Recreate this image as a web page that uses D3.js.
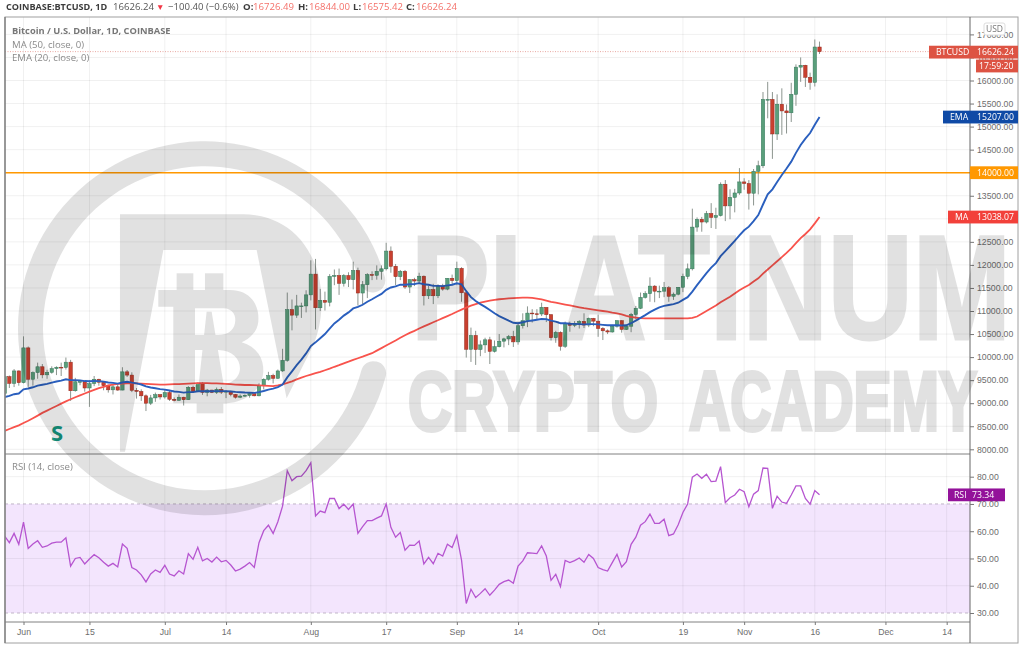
<!DOCTYPE html>
<html>
<head>
<meta charset="utf-8">
<script src="https://cdn.jsdelivr.net/npm/d3@7"></script>
<style>
  html, body { margin: 0; padding: 0; background: #fff; }
  svg { display: block; font-family: "Open Sans", sans-serif; }
  .axis path { display: none; }
  .axis line { stroke: #777; }
  .axis text { fill: #6d6d6d; font-size: 8.7px; }
</style>
</head>
<body>
<svg width="1024" height="648"></svg>
<script>
/* DAILY CANDLES, ONE ROW PER MONTH, STARTING ON MAY 28 */
const firstDay = '2020-05-28'
const opens = [
  9210, 9575, 9430, 9700,
  9445, 10200, 9520, 9665, 9790, 9615, 9670, 9750, 9780, 9775, 9890, 9270, 9465, 9470, 9330, 9425, 9520, 9455, 9380, 9290, 9355, 9285, 9680, 9610, 9280, 9255, 9160, 9000, 9115, 9185,
  9135, 9230, 9085, 9060, 9130, 9075, 9345, 9250, 9435, 9235, 9285, 9235, 9300, 9240, 9260, 9190, 9130, 9155, 9170, 9210, 9160, 9390, 9520, 9600, 9540, 9700, 9930, 11030, 10910, 11110, 11110,
  11350, 11800, 11070, 11230, 11190, 11750, 11770, 11600, 11770, 11680, 11880, 11390, 11570, 11790, 11775, 11860, 11915, 12300, 11970, 11745, 11860, 11520, 11680, 11650, 11755, 11330, 11465, 11330, 11540, 11475, 11710,
  11660, 11925, 11395, 10170, 10470, 10165, 10265, 10375, 10125, 10225, 10345, 10395, 10445, 10330, 10680, 10790, 10955, 10940, 10935, 11080, 10920, 10420, 10535, 10235, 10735, 10690, 10730, 10775, 10695, 10840,
  10780, 10620, 10570, 10545, 10670, 10790, 10600, 10670, 10925, 11060, 11295, 11375, 11540, 11430, 11430, 11505, 11320, 11365, 11515, 11750, 11915, 12820, 12990, 12930, 13115, 13030, 13070, 13750, 13280, 13465, 13560,
  13800, 13765, 13555, 14030, 14150, 15590, 15590, 14840, 15485, 15340, 15300, 15700, 16290, 16330, 16070, 15960, 16726.49
]
const highs = [
  9620, 9600, 9740, 9710,
  10450, 10230, 9690, 9880, 9850, 9725, 9800, 9800, 9880, 9990, 9940, 9550, 9490, 9480, 9500, 9590, 9530, 9470, 9400, 9400, 9415, 9780, 9720, 9670, 9330, 9300, 9190, 9180, 9230, 9200,
  9290, 9265, 9125, 9190, 9140, 9370, 9380, 9450, 9460, 9310, 9290, 9340, 9350, 9280, 9270, 9200, 9190, 9190, 9220, 9225, 9430, 9540, 9680, 9640, 9730, 10180, 11400, 11250, 11350, 11180, 11450,
  12100, 12130, 11480, 11420, 11800, 11900, 11920, 11800, 11840, 12070, 11940, 11650, 11820, 11860, 11990, 11990, 12480, 12400, 12020, 11890, 11890, 11690, 11720, 11830, 11770, 11550, 11590, 11580, 11590, 11710, 11790,
  12070, 11950, 11400, 10640, 10570, 10360, 10420, 10440, 10360, 10500, 10420, 10480, 10570, 10760, 10950, 11100, 11040, 11040, 11180, 11050, 10930, 10570, 10560, 10770, 10770, 10780, 10800, 10950, 10860, 10850,
  10920, 10650, 10600, 10700, 10800, 10800, 10690, 10960, 11110, 11400, 11430, 11730, 11560, 11550, 11630, 11540, 11400, 11520, 11810, 12030, 13220, 13030, 13040, 13170, 13340, 13240, 13790, 13840, 13640, 13650, 14100,
  13880, 13840, 14080, 14260, 15750, 15970, 15750, 15700, 15830, 15480, 15950, 16350, 16500, 16340, 16170, 16890, 16844
]
const lows = [
  9110, 9330, 9350, 9380,
  9430, 9355, 9380, 9530, 9540, 9530, 9640, 9610, 9590, 9730, 9050, 9250, 9390, 9250, 8920, 9370, 9380, 9280, 9230, 9190, 9270, 9280, 9570, 9240, 9100, 9050, 8830, 8960, 9030, 9080,
  9100, 9050, 9040, 9060, 8950, 9070, 9230, 9240, 9180, 9150, 9220, 9200, 9200, 9110, 9150, 9100, 9110, 9140, 9120, 9150, 9150, 9300, 9490, 9430, 9530, 9680, 9900, 10580, 10850, 10850, 10970,
  11230, 10600, 11000, 11010, 11100, 11560, 11350, 11530, 11520, 11470, 11120, 11150, 11280, 11670, 11680, 11680, 11880, 11830, 11560, 11670, 11480, 11390, 11540, 11590, 11120, 11260, 11150, 11280, 11440, 11450, 11570,
  11560, 11200, 9990, 9895, 9830, 10020, 10090, 9850, 10100, 10210, 10210, 10260, 10220, 10270, 10620, 10650, 10750, 10800, 10890, 10760, 10360, 10310, 10140, 10200, 10550, 10650, 10620, 10630, 10650, 10670,
  10440, 10370, 10500, 10530, 10640, 10530, 10590, 10540, 10820, 11040, 11270, 11200, 11190, 11280, 11300, 11200, 11240, 11340, 11410, 11690, 11880, 12720, 12720, 12900, 12800, 12780, 13050, 12950, 12990, 13140, 13520,
  13630, 13200, 13290, 13530, 14100, 15180, 14300, 14710, 14820, 14850, 15100, 15450, 15970, 15860, 15800, 15870, 16575.42
]
const closes = [
  9575, 9430, 9700, 9445,
  10200, 9520, 9665, 9790, 9615, 9670, 9750, 9780, 9775, 9890, 9270, 9465, 9470, 9330, 9425, 9520, 9455, 9380, 9290, 9355, 9285, 9680, 9610, 9280, 9255, 9160, 9000, 9115, 9185, 9135,
  9230, 9085, 9060, 9130, 9075, 9345, 9250, 9435, 9235, 9285, 9235, 9300, 9240, 9260, 9190, 9130, 9155, 9170, 9210, 9160, 9390, 9520, 9600, 9540, 9700, 9930, 11030, 10910, 11110, 11110, 11350,
  11800, 11070, 11230, 11190, 11750, 11770, 11600, 11770, 11680, 11880, 11390, 11570, 11790, 11775, 11860, 11915, 12300, 11970, 11745, 11860, 11520, 11680, 11650, 11755, 11330, 11465, 11330, 11540, 11475, 11710, 11660,
  11925, 11395, 10170, 10470, 10165, 10265, 10375, 10125, 10225, 10345, 10395, 10445, 10330, 10680, 10790, 10955, 10940, 10935, 11080, 10920, 10420, 10535, 10235, 10735, 10690, 10730, 10775, 10695, 10840, 10780,
  10620, 10570, 10545, 10670, 10790, 10600, 10670, 10925, 11060, 11295, 11375, 11540, 11430, 11430, 11505, 11320, 11365, 11515, 11750, 11915, 12820, 12990, 12930, 13115, 13030, 13070, 13750, 13280, 13465, 13560, 13800,
  13765, 13555, 14030, 14150, 15590, 15590, 14840, 15485, 15340, 15300, 15700, 16290, 16330, 16070, 15960, 16726.49, 16626.24
]

/* INDICATOR LINES, SAME DAYS AS THE CANDLES */
const ema20 = [
  9130, 9160, 9195, 9210,
  9300, 9320, 9345, 9380, 9400, 9420, 9445, 9470, 9490, 9520, 9500, 9500, 9495, 9480, 9475, 9480, 9478, 9468, 9450, 9440, 9425, 9450, 9465, 9445, 9430, 9405, 9365, 9340, 9325, 9305,
  9295, 9275, 9255, 9245, 9230, 9240, 9240, 9260, 9258, 9260, 9258, 9262, 9262, 9262, 9255, 9245, 9238, 9232, 9230, 9225, 9240, 9265, 9295, 9315, 9350, 9405, 9560, 9690, 9825, 9945, 10080,
  10240, 10320, 10410, 10500, 10620, 10730, 10810, 10900, 10970, 11055, 11090, 11135, 11200, 11255, 11315, 11370, 11460, 11510, 11535, 11570, 11570, 11580, 11585, 11605, 11580, 11570, 11545, 11545, 11540, 11555, 11570,
  11600, 11580, 11430, 11300, 11215, 11150, 11090, 11020, 10950, 10890, 10840, 10790, 10745, 10735, 10755, 10780, 10795, 10810, 10825, 10820, 10790, 10770, 10735, 10735, 10725, 10720, 10715, 10710, 10715, 10715,
  10710, 10700, 10690, 10690, 10690, 10685, 10690, 10735, 10790, 10850, 10910, 10975, 11030, 11080, 11110, 11130, 11150, 11180, 11240, 11300, 11420, 11560, 11690, 11820, 11940, 12040, 12190, 12300, 12410, 12520, 12640,
  12750, 12830, 12950, 13080, 13310, 13530, 13640, 13800, 13950, 14090, 14240, 14430, 14600, 14740, 14860, 15040, 15207
]
const ma50 = [
  8400, 8440, 8480, 8520,
  8570, 8620, 8675, 8730, 8790, 8840, 8890, 8940, 8990, 9040, 9085, 9130, 9170, 9210, 9250, 9290, 9325, 9355, 9385, 9405, 9420, 9425, 9430, 9430, 9428, 9425, 9420, 9415, 9410, 9405,
  9405, 9410, 9415, 9415, 9420, 9425, 9430, 9435, 9435, 9435, 9430, 9430, 9425, 9420, 9415, 9405, 9400, 9395, 9395, 9390, 9385, 9380, 9375, 9370, 9385, 9410, 9440, 9475, 9515, 9555, 9590,
  9620, 9650, 9680, 9715, 9750, 9790, 9825, 9865, 9900, 9940, 9975, 10010, 10050, 10085, 10140, 10195, 10250, 10305, 10360, 10420, 10475, 10525, 10570, 10620, 10665, 10710, 10755, 10800, 10845, 10890, 10935,
  10985, 11030, 11075, 11115, 11150, 11180, 11205, 11225, 11240, 11255, 11265, 11275, 11280, 11285, 11288, 11288, 11285, 11270, 11250, 11225, 11200, 11180, 11160, 11140, 11120, 11100, 11080, 11060, 11045, 11030,
  11015, 11000, 10985, 10965, 10950, 10925, 10895, 10870, 10855, 10845, 10840, 10838, 10838, 10838, 10838, 10838, 10838, 10838, 10838, 10840, 10850, 10880, 10940, 11000, 11060, 11120, 11190, 11250, 11310, 11380, 11450,
  11510, 11565, 11640, 11710, 11810, 11900, 11990, 12080, 12170, 12260, 12360, 12470, 12580, 12670, 12770, 12900, 13038
]
const rsi14 = [
  58.2, 55.8, 59.2, 55.2,
  63.3, 53.7, 55.3, 56.5, 54.1, 54.6, 55.6, 56, 56, 57.6, 47.2, 50, 50.4, 48, 49.8, 51.4, 50.3, 48.6, 47.2, 48.2, 46.9, 55.3, 53.7, 46.7, 45.8, 44, 41.4, 44.3, 45.8, 44.9,
  47.5, 44.3, 43.6, 45.5, 44.3, 51.8, 49.7, 54.1, 49.1, 50, 48.7, 50.5, 48.8, 49.3, 47.6, 45.4, 46.1, 47.2, 48.5, 46.7, 55.8, 60.2, 62.2, 59.2, 63.5, 69.2, 82.2, 78.5, 80, 80.2, 82.2,
  85.1, 65.6, 67.4, 66.8, 72, 72, 68.3, 69.9, 68, 70, 59.2, 61.7, 63.9, 63.9, 64.8, 65.6, 70, 61.4, 57.8, 59.5, 53, 54.9, 54.8, 56.4, 48, 50.4, 48.1, 51.9, 50.9, 55.2, 54,
  58.4, 49.4, 33.5, 38.7, 35.7, 37.2, 38.9, 36.5, 38.4, 40.5, 41.5, 42.1, 40.9, 47.2, 49.1, 52.1, 52, 51.8, 54.6, 50.9, 42, 44.2, 39.7, 49.3, 48.5, 49.2, 50.2, 48.6, 51.5, 50,
  46.7, 45.9, 45.4, 48.5, 51.5, 46.9, 48.8, 55.2, 57.8, 62.2, 63.5, 66.3, 62.9, 62.9, 64.4, 58.4, 59, 62.4, 66.9, 70, 79.8, 81, 79.4, 80.9, 78.2, 78.4, 83.7, 70.5, 72.3, 73.3, 75.4,
  74.5, 69, 73.6, 74.9, 83.2, 83.1, 68.4, 72.8, 70.7, 70.2, 73.3, 76.6, 76.6, 72, 69.9, 74.9, 73.34
]

/* TICKS */
const priceTicks = [8000, 8500, 9000, 9500, 10000, 10500, 11000, 11500, 12000, 12500, 13000, 13500, 14000, 14500, 15000, 15500, 16000, 16500, 17000]
const rsiTicks = [30, 40, 50, 60, 70, 80]
const timeTicks = ['2020-06-01', '2020-06-15', '2020-07-01', '2020-07-14', '2020-08-01', '2020-08-17', '2020-09-01', '2020-09-14', '2020-10-01', '2020-10-19', '2020-11-01', '2020-11-16', '2020-12-01', '2020-12-14']
const timeLabels = ['Jun', '15', 'Jul', '14', 'Aug', '17', 'Sep', '14', 'Oct', '19', 'Nov', '16', 'Dec', '14']

/* LEVELS AND LAST VALUES */
const supportLevel = 14000
const rsiBand = [30, 70]
const lastClose = 16626.24
const lastEma = 15207
const lastMa = 13038.07
const lastRsi = 73.34

const parseDay = d3.utcParse('%Y-%m-%d')
const dayMs = 24 * 60 * 60 * 1000
const startMs = parseDay(firstDay).getTime()
const candles = closes.map((c, i) => ({
  date: new Date(startMs + i * dayMs),
  open: opens[i], high: highs[i], low: lows[i], close: c
}))

/* LAYOUT */
const plotLeft = 5, axisX = 970, plotRight = 1018
const plotTop = 17, mainBottom = 454, rsiBottom = 622, frameBottom = 643

const svg = d3.select('svg')

const xScale = d3.scaleUtc()
  .domain([parseDay('2020-06-01'), parseDay('2020-11-16')])
  .range([23.5, 814.8])
const yScale = d3.scaleLinear()
  .domain([8000, 16000])
  .range([449.3, 80.5])
const rsiScale = d3.scaleLinear()
  .domain([30, 80])
  .range([613, 476.7])

const defs = svg.append('defs')
defs.append('clipPath').attr('id', 'mainClip').append('rect')
  .attr('x', plotLeft).attr('y', plotTop).attr('width', axisX - plotLeft).attr('height', mainBottom - plotTop)
defs.append('clipPath').attr('id', 'rsiClip').append('rect')
  .attr('x', plotLeft).attr('y', mainBottom).attr('width', axisX - plotLeft).attr('height', rsiBottom - mainBottom)

/* RSI BAND UNDER THE GRID */
svg.append('rect')
  .attr('x', plotLeft).attr('width', axisX - plotLeft)
  .attr('y', rsiScale(rsiBand[1]))
  .attr('height', rsiScale(rsiBand[0]) - rsiScale(rsiBand[1]))
  .attr('fill', '#f3e5fd')

/* GRID */
const grid = svg.append('g').attr('stroke', '#000').attr('stroke-opacity', 0.06)
grid.selectAll('.vmain')
  .data(timeTicks)
  .enter().append('line')
  .attr('x1', d => xScale(parseDay(d))).attr('x2', d => xScale(parseDay(d)))
  .attr('y1', plotTop).attr('y2', rsiBottom)
grid.selectAll('.hmain')
  .data(priceTicks.filter(d => yScale(d) > plotTop))
  .enter().append('line')
  .attr('x1', plotLeft).attr('x2', axisX)
  .attr('y1', d => yScale(d)).attr('y2', d => yScale(d))
grid.selectAll('.hrsi')
  .data(rsiTicks.filter(d => d !== 30 && d !== 70))
  .enter().append('line')
  .attr('x1', plotLeft).attr('x2', axisX)
  .attr('y1', d => rsiScale(d)).attr('y2', d => rsiScale(d))

/* RSI BAND EDGES */
svg.append('g').selectAll('line')
  .data(rsiBand)
  .enter().append('line')
  .attr('x1', plotLeft).attr('x2', axisX)
  .attr('y1', d => rsiScale(d)).attr('y2', d => rsiScale(d))
  .attr('stroke', '#b3a6ba').attr('stroke-dasharray', '3,3').attr('stroke-width', 0.8)

/* MAIN PANEL MARKS */
const main = svg.append('g').attr('clip-path', 'url(#mainClip)')

main.append('line')
  .attr('x1', plotLeft).attr('x2', axisX)
  .attr('y1', yScale(lastClose)).attr('y2', yScale(lastClose))
  .attr('stroke', '#e8a9a2').attr('stroke-dasharray', '1,1.5')

main.append('line')
  .attr('x1', plotLeft).attr('x2', axisX)
  .attr('y1', yScale(supportLevel)).attr('y2', yScale(supportLevel))
  .attr('stroke', '#ff9800').attr('stroke-width', 1.6)

const upColor = '#5a9f7b', downColor = '#c9402f'
const upEdge = '#35775a', downEdge = '#93291d'
const bodyWidth = 3.4

const candle = main.selectAll('.candle')
  .data(candles)
  .enter().append('g')
  .attr('class', 'candle')

candle.append('line')
  .attr('x1', d => xScale(d.date)).attr('x2', d => xScale(d.date))
  .attr('y1', d => yScale(d.high)).attr('y2', d => yScale(d.low))
  .attr('stroke', '#6f7a72').attr('stroke-width', 0.8)

candle.append('rect')
  .attr('x', d => xScale(d.date) - bodyWidth / 2)
  .attr('width', bodyWidth)
  .attr('y', d => yScale(Math.max(d.open, d.close)))
  .attr('height', d => Math.max(0.8, Math.abs(yScale(d.open) - yScale(d.close))))
  .attr('fill', d => d.close >= d.open ? upColor : downColor)
  .attr('stroke', d => d.close >= d.open ? upEdge : downEdge)
  .attr('stroke-width', 0.5)

const priceLine = d3.line()
  .x((d, i) => xScale(candles[i].date))
  .y(d => yScale(d))

main.append('path').datum(ma50)
  .attr('d', priceLine)
  .attr('fill', 'none').attr('stroke', '#f8534c').attr('stroke-width', 1.8)
main.append('path').datum(ema20)
  .attr('d', priceLine)
  .attr('fill', 'none').attr('stroke', '#2a5fbe').attr('stroke-width', 1.9)

main.append('text')
  .attr('x', 51).attr('y', 441)
  .attr('font-size', 22).attr('font-weight', 700).attr('fill', '#14967f')
  .text('S')

/* RSI LINE */
const rsiLine = d3.line()
  .x((d, i) => xScale(candles[i].date))
  .y(d => rsiScale(d))

svg.append('g').attr('clip-path', 'url(#rsiClip)')
  .append('path').datum(rsi14)
  .attr('d', rsiLine)
  .attr('fill', 'none').attr('stroke', '#b655d0').attr('stroke-width', 1.3)

/* FRAME */
const chartFrame = svg.append('g').attr('stroke', '#808080').attr('fill', 'none')
chartFrame.append('rect')
  .attr('x', plotLeft).attr('y', plotTop)
  .attr('width', plotRight - plotLeft).attr('height', frameBottom - plotTop)
  .attr('stroke', '#a0a0a0')
chartFrame.append('line').attr('x1', plotLeft).attr('x2', axisX).attr('y1', mainBottom).attr('y2', mainBottom)
chartFrame.append('line').attr('x1', plotLeft).attr('x2', axisX).attr('y1', rsiBottom).attr('y2', rsiBottom)
chartFrame.append('line').attr('x1', axisX).attr('x2', axisX).attr('y1', plotTop).attr('y2', frameBottom).attr('stroke', '#666')
chartFrame.append('line').attr('x1', plotLeft).attr('x2', plotLeft).attr('y1', plotTop).attr('y2', frameBottom).attr('stroke-width', 1.4)

/* AXES */
svg.append('g')
  .attr('class', 'axis')
  .attr('transform', `translate(${axisX}, 0)`)
  .call(d3.axisRight(yScale).tickValues(priceTicks).tickFormat(d3.format('.2f')).tickSize(4).tickPadding(3))
svg.append('g')
  .attr('class', 'axis')
  .attr('transform', `translate(${axisX}, 0)`)
  .call(d3.axisRight(rsiScale).tickValues(rsiTicks).tickFormat(d3.format('.2f')).tickSize(4).tickPadding(3))
svg.append('g')
  .attr('class', 'axis')
  .attr('transform', `translate(0, ${rsiBottom})`)
  .call(d3.axisBottom(xScale)
    .tickValues(timeTicks.map(parseDay))
    .tickFormat((d, i) => timeLabels[i])
    .tickSize(3).tickPadding(4))

/* WATERMARK, LAID OVER THE CHART */
const mark = svg.append('g')
  .attr('opacity', 0.12)
  .attr('fill', '#000')
  .style('mix-blend-mode', 'multiply')
  .style('pointer-events', 'none')

const deg = Math.PI / 180
mark.append('path')
  .attr('transform', 'translate(205, 328.3)')
  .attr('d', d3.arc()
    .innerRadius(162).outerRadius(187)
    .startAngle(101 * deg).endAngle(438 * deg)
    .cornerRadius(12)())

const logo = mark.append('g').attr('transform', 'translate(10, 135) scale(0.3333)')
logo.append('path')
  .attr('d', 'M330,238 L700,238 C800,240 880,290 920,400 C950,500 930,600 900,650 L830,790 L740,345 L460,345 L345,950 L330,950 Z')
logo.append('path')
  .attr('fill-rule', 'evenodd')
  .attr('d', 'M445,465 L660,465 C720,465 750,510 745,560 C742,590 720,610 695,622 C740,635 762,670 760,710 C755,770 700,805 640,805 L490,805 L490,515 L445,515 Z ' +
    'M555,520 L640,520 C670,520 680,545 675,565 C670,590 650,600 625,600 L555,600 Z ' +
    'M555,645 L625,645 C665,645 690,670 690,700 C690,730 660,750 630,750 L555,750 Z')
logo.append('path').attr('d', 'M590,530 L605,530 L650,805 L560,805 Z')
logo.append('rect').attr('x', 500).attr('y', 415).attr('width', 50).attr('height', 50)
logo.append('rect').attr('x', 585).attr('y', 415).attr('width', 55).attr('height', 50)
logo.append('rect').attr('x', 560).attr('y', 805).attr('width', 80).attr('height', 30)

const markFont = '"Liberation Sans", sans-serif'
mark.append('text')
  .attr('x', 411).attr('y', 339)
  .attr('font-family', markFont)
  .attr('font-size', 148).attr('font-weight', 700)
  .attr('stroke', '#000').attr('stroke-width', 3)
  .attr('textLength', 600).attr('lengthAdjust', 'spacingAndGlyphs')
  .text('PLATINUM')
mark.append('text')
  .attr('x', 408).attr('y', 430)
  .attr('font-family', markFont)
  .attr('font-size', 83).attr('font-weight', 700)
  .attr('stroke', '#000').attr('stroke-width', 4)
  .attr('textLength', 250).attr('lengthAdjust', 'spacingAndGlyphs')
  .text('CRYPTO')
mark.append('text')
  .attr('x', 689).attr('y', 430)
  .attr('font-family', markFont)
  .attr('font-size', 83).attr('font-weight', 700)
  .attr('stroke', '#000').attr('stroke-width', 4)
  .attr('textLength', 288).attr('lengthAdjust', 'spacingAndGlyphs')
  .text('ACADEMY')

/* PRICE TAGS ON THE AXIS */
const tag = (x0, x1, yMid, color, parts) => {
  const g = svg.append('g')
  g.append('rect')
    .attr('x', x0).attr('y', yMid - 6.4)
    .attr('width', x1 - x0).attr('height', 12.8)
    .attr('fill', color)
  parts.forEach(p => {
    g.append('text')
      .attr('x', p[0]).attr('y', yMid + 3.1)
      .attr('font-size', 8.7).attr('fill', '#fff')
      .text(p[1])
  })
  return g
}
const fmt = d3.format('.2f')

tag(929, plotRight, yScale(lastClose) + 0.5, '#dd5343', [[936, 'BTCUSD'], [977, fmt(lastClose)]])
tag(976, plotRight, 66, '#dd5343', [[979, '17:59:20']])
tag(943, plotRight, yScale(lastEma), '#0f4aa6', [[950, 'EMA'], [977, fmt(lastEma)]])
tag(970, plotRight, yScale(supportLevel), '#ff9800', [[977, fmt(supportLevel)]])
tag(948, plotRight, yScale(lastMa), '#f2403a', [[955, 'MA'], [977, fmt(lastMa)]])
tag(948, 1005, rsiScale(lastRsi), '#93129a', [[954, 'RSI'], [972, fmt(lastRsi)]])

svg.append('rect')
  .attr('x', 984).attr('y', 23).attr('width', 21).attr('height', 12).attr('rx', 2)
  .attr('fill', '#fff').attr('stroke', '#ddd')
svg.append('text')
  .attr('x', 994.5).attr('y', 32.2).attr('text-anchor', 'middle')
  .attr('font-size', 8.5).attr('fill', '#777')
  .text('USD')

/* HEADER AND LEGEND */
const label = (x, y, text, color, weight, size) => {
  svg.append('text')
    .attr('x', x).attr('y', y)
    .attr('font-size', size || 9.6)
    .attr('font-weight', weight || 400)
    .attr('fill', color)
    .text(text)
}
const dark = '#3c3c3c', pink = '#f4716a'
label(6, 10, 'COINBASE:BTCUSD, 1D', dark, 700, 9.1)
label(113, 10, '16626.24', '#555')
label(156, 10, '▼', '#f23645', 400, 8.5)
label(168, 10, '−100.40 (−0.6%)', '#555')
label(243, 10, 'O:', dark, 700)
label(253, 10, '16726.49', pink)
label(298, 10, 'H:', dark, 700)
label(309, 10, '16844.00', pink)
label(353, 10, 'L:', dark, 700)
label(362, 10, '16575.42', pink)
label(406, 10, 'C:', dark, 700)
label(416, 10, '16626.24', pink)

label(12, 34, 'Bitcoin / U.S. Dollar, 1D, COINBASE', '#777', 700, 9.3)
label(12, 47.5, 'MA (50, close, 0)', '#8a8a8a')
label(12, 60.5, 'EMA (20, close, 0)', '#8a8a8a')
label(12, 470, 'RSI (14, close)', '#8a8a8a')
</script>
</body>
</html>
